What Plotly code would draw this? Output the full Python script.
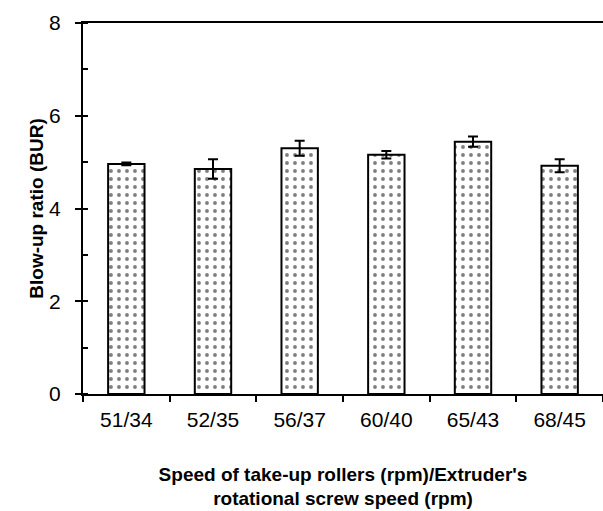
import plotly.graph_objects as go

# Blow-up ratio for each take-up roller / screw speed setting
speed_labels = ["51/34", "52/35", "56/37", "60/40", "65/43", "68/45"]
bur_mean = [4.96, 4.85, 5.30, 5.16, 5.44, 4.92]
bur_err = [0.03, 0.21, 0.16, 0.08, 0.11, 0.14]

y_ticks = [0, 2, 4, 6, 8]

fig = go.Figure()
fig.add_trace(go.Bar(
    x=speed_labels,
    y=bur_mean,
    width=0.42,
    marker=dict(
        color="white",
        line=dict(color="black", width=2),
        pattern=dict(shape=".", fgcolor="black", bgcolor="white",
                     size=8, solidity=0.18),
    ),
    error_y=dict(type="data", array=bur_err, visible=True,
                 color="black", thickness=2, width=5),
))

fig.update_layout(
    width=603, height=511,
    margin=dict(l=83, r=0, t=23, b=117),
    plot_bgcolor="white", paper_bgcolor="white",
    showlegend=False,
    font=dict(family="Liberation Sans, Arial, sans-serif", color="black"),
)

fig.update_xaxes(
    type="category",
    tickson="boundaries",
    ticks="outside", ticklen=6, tickwidth=2, tickcolor="black",
    ticklabelstandoff=6,
    showline=True, linecolor="black", linewidth=2, mirror=True,
    showgrid=False,
    tickfont=dict(size=21),
    title=dict(text="<b>Speed of take-up rollers (rpm)/Extruder's<br>rotational screw speed (rpm)</b>",
               font=dict(size=19), standoff=37),
)

fig.update_yaxes(
    range=[0, 8],
    tickvals=y_ticks,
    ticks="outside", ticklen=6, tickwidth=2, tickcolor="black",
    ticklabelstandoff=10,
    minor=dict(dtick=1, ticks="inside", ticklen=5, tickwidth=2, tickcolor="black"),
    showline=True, linecolor="black", linewidth=2,
    showgrid=False, zeroline=False,
    tickfont=dict(size=21),
    title=dict(text="<b>Blow-up ratio (BUR)</b>", font=dict(size=19), standoff=0),
)

fig.write_html("out.html")
